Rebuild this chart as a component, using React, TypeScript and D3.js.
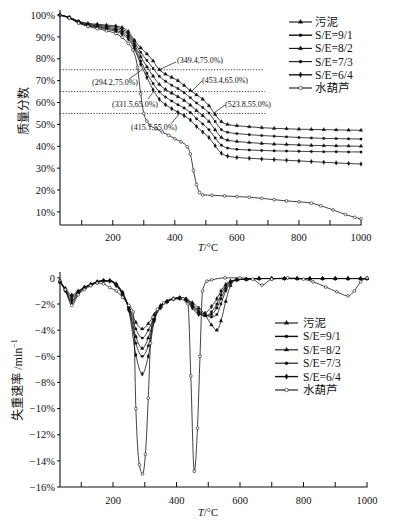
import React from "react";
import * as d3 from "d3";

// ---------- DATA ----------
const seriesNames = ["污泥", "S/E=9/1", "S/E=8/2", "S/E=7/3", "S/E=6/4", "水葫芦"];

// TG (mass fraction, %)
const tgTemps = [30, 60, 90, 120, 150, 180, 210, 230, 250, 270, 290, 310, 330, 350, 370, 390, 410, 430, 450, 470, 490, 510, 530, 550, 570, 600, 640, 680, 720, 760, 800, 840, 880, 920, 960, 1000];
const tgSludge = [100, 99, 97.2, 96.2, 95.8, 95.4, 95, 94.3, 92.5, 88.5, 85, 82.2, 79, 75, 73, 71.5, 70, 67.8, 65.5, 63.5, 61.5, 58.5, 54.5, 51.2, 50, 49.4, 48.9, 48.5, 48.2, 48, 47.8, 47.7, 47.6, 47.5, 47.4, 47.3];
const tgSE91 = [100, 98.9, 97, 95.9, 95.4, 94.9, 94.4, 93.5, 91.6, 87.5, 83, 79.3, 75.6, 72, 69.7, 67.9, 66.4, 64.5, 62.2, 59.8, 57.7, 55.2, 51.3, 47.6, 46.4, 45.8, 45.3, 44.9, 44.6, 44.3, 44, 43.8, 43.6, 43.5, 43.4, 43.3];
const tgSE82 = [100, 98.8, 96.8, 95.6, 95, 94.4, 93.7, 92.8, 90.8, 86.5, 81, 76.3, 72.1, 68.3, 66, 64.3, 62.7, 61, 58.8, 56.3, 54, 51.3, 47.5, 44, 42.8, 42.2, 41.7, 41.3, 41, 40.8, 40.6, 40.4, 40.3, 40.2, 40.1, 40];
const tgSE73 = [100, 98.7, 96.6, 95.3, 94.6, 93.9, 93, 92, 89.9, 85.5, 79, 73.4, 68.7, 64.9, 62.5, 60.7, 59, 57.5, 55.4, 52.6, 50.2, 47.6, 43.8, 40.5, 39.2, 38.6, 38.3, 38.1, 37.9, 37.8, 37.7, 37.6, 37.5, 37.5, 37.4, 37.4];
const tgSE64 = [100, 98.7, 96.5, 95, 94.3, 93.5, 92.5, 91.3, 89, 84.5, 77.5, 71.5, 65.8, 61.5, 59, 57.2, 55.5, 54, 52, 49, 46.5, 44, 40.2, 36.8, 35.5, 34.9, 34.5, 34.2, 33.9, 33.6, 33.3, 33, 32.7, 32.4, 32.1, 31.9];
const tgHyacinthTemps = [30, 60, 90, 120, 150, 180, 210, 230, 250, 265, 280, 290, 300, 310, 320, 340, 360, 380, 400, 420, 440, 450, 460, 470, 480, 490, 520, 560, 600, 640, 680, 720, 760, 800, 840, 870, 910, 950, 980, 1000];
const tgHyacinth = [100, 98.6, 96.3, 94.8, 93.8, 92.8, 91.5, 89.8, 87, 84, 76, 64, 55, 51.5, 49.6, 48, 46.5, 45, 43.4, 42, 39.8, 36.5, 29, 22.5, 18.8, 17.8, 17.6, 17.3, 17, 16.7, 16.2, 15.6, 15, 14.6, 14, 12.8, 10.9, 8.8, 7.5, 6.8];

// TG y ticks and x ticks
const tgYTicks = [10, 20, 30, 40, 50, 60, 70, 80, 90, 100];
const xTicks = [100, 200, 300, 400, 500, 600, 700, 800, 900, 1000];
const xTickLabels = [200, 400, 600, 800, 1000];

// Reference lines and annotations (T, %)
const refLevels = [75, 65, 55];
const annotT = [349.4, 294.2, 331.5, 453.4, 523.8, 415.1];
const annotP = [75, 75, 65, 65, 55, 55];

// DTG (rate, %/min)
const dtgTemps = [33, 50, 70, 90, 110, 130, 150, 170, 190, 210, 230, 250, 272, 292, 311, 330, 350, 370, 390, 410, 430, 450, 470, 490, 510, 527, 540, 555, 570, 590, 620, 660, 700, 740, 780, 820, 860, 900, 940, 980, 1000];
const dtgSludge = [-0.3, -0.8, -1.3, -1.0, -0.7, -0.5, -0.3, -0.2, -0.2, -0.45, -1.1, -2.2, -3.4, -3.9, -3.5, -2.8, -2.1, -1.8, -1.6, -1.5, -1.6, -1.9, -2.3, -2.8, -3.6, -4.0, -3.3, -1.8, -0.6, -0.15, -0.1, -0.05, -0.05, -0.05, -0.05, -0.05, -0.05, -0.05, -0.05, -0.05, -0.05];
const dtgSE91 = [-0.3, -0.85, -1.45, -1.05, -0.72, -0.5, -0.3, -0.2, -0.2, -0.5, -1.15, -2.25, -3.9, -4.6, -4.0, -3.0, -2.15, -1.8, -1.6, -1.5, -1.6, -2.0, -2.5, -2.8, -3.0, -2.8, -2.0, -1.0, -0.4, -0.15, -0.1, -0.05, -0.05, -0.05, -0.05, -0.05, -0.05, -0.05, -0.05, -0.05, -0.05];
const dtgSE82 = [-0.3, -0.9, -1.6, -1.1, -0.75, -0.5, -0.3, -0.2, -0.22, -0.5, -1.2, -2.35, -4.5, -5.4, -4.6, -3.1, -2.2, -1.8, -1.6, -1.55, -1.65, -2.1, -2.6, -2.9, -2.8, -2.3, -1.6, -0.8, -0.3, -0.15, -0.1, -0.05, -0.05, -0.05, -0.05, -0.05, -0.05, -0.05, -0.05, -0.05, -0.05];
const dtgSE73 = [-0.3, -0.95, -1.75, -1.15, -0.78, -0.52, -0.32, -0.22, -0.24, -0.55, -1.25, -2.4, -5.0, -6.0, -5.2, -3.2, -2.2, -1.8, -1.6, -1.55, -1.7, -2.2, -2.7, -2.9, -2.6, -2.0, -1.3, -0.6, -0.3, -0.15, -0.1, -0.05, -0.05, -0.05, -0.05, -0.05, -0.05, -0.05, -0.05, -0.05, -0.05];
const dtgSE64 = [-0.3, -1.0, -1.9, -1.2, -0.8, -0.55, -0.35, -0.25, -0.26, -0.6, -1.3, -2.5, -5.9, -7.35, -6.0, -3.3, -2.3, -1.85, -1.62, -1.58, -1.75, -2.3, -2.8, -2.7, -2.2, -1.6, -1.0, -0.5, -0.25, -0.15, -0.1, -0.05, -0.05, -0.05, -0.05, -0.05, -0.05, -0.05, -0.05, -0.05, -0.05];
const dtgHyacinthTemps = [33, 50, 70, 90, 110, 130, 150, 170, 190, 210, 230, 250, 264, 272, 283, 293, 302, 311, 318, 326, 340, 360, 390, 420, 436, 445, 456, 466, 474, 482, 496, 511, 553, 600, 640, 669, 700, 750, 800, 830, 870, 905, 940, 960, 980, 1000];
const dtgHyacinth = [-0.2, -0.9, -2.1, -1.3, -0.9, -0.6, -0.4, -0.45, -0.75, -1.0, -1.5, -2.1, -2.6, -10.0, -14.3, -15.0, -13.5, -9.2, -5.0, -3.0, -2.4, -1.9, -1.6, -1.6, -2.0, -7.5, -14.8, -11.5, -6.0, -1.0, -0.25, -0.15, 0, 0, -0.1, -0.55, -0.1, 0, -0.1, -0.3, -0.7, -1.07, -1.38, -1.0, -0.3, 0];
const dtgYTicks = [0, -2, -4, -6, -8, -10, -12, -14, -16];

// ---------- CHART ----------
const FONT = "'Liberation Serif','Times New Roman','Noto Sans CJK SC',serif";
const CJK = "'Noto Sans CJK SC','Liberation Serif',serif";
const INK = "#111";

const symbolTypes = [d3.symbolTriangle, d3.symbolSquare, d3.symbolTriangle, d3.symbolCircle, d3.symbolDiamond, d3.symbolCircle];
const symbolSizes = [6, 4.5, 6, 5, 6, 6];
const symbolFills = [INK, INK, INK, INK, INK, "#fff"];

function Marker({ x, y, i, scale = 1 }: { x: number; y: number; i: number; scale?: number }) {
  const p = d3.symbol().type(symbolTypes[i]).size(symbolSizes[i] * scale)() as string;
  return <path d={p} transform={`translate(${x},${y})`} fill={symbolFills[i]} stroke={INK} strokeWidth={i === 5 ? 0.6 : 0.3} />;
}

function Series({ temps, vals, x, y, i }: any) {
  const pts: [number, number][] = temps.map((t: number, k: number) => [t, vals[k]]);
  const line = d3.line<[number, number]>().x((d) => x(d[0])).y((d) => y(d[1])).curve(d3.curveMonotoneX);
  return (
    <g>
      <path d={line(pts) as string} fill="none" stroke={INK} strokeWidth={0.8} />
      {pts.map((d, k) => <Marker key={k} x={x(d[0])} y={y(d[1])} i={i} />)}
    </g>
  );
}

function Legend({ x0, y0, dy, lineLen, textGap }: any) {
  return (
    <g>
      {seriesNames.map((n, i) => {
        const yy = y0 + i * dy;
        return (
          <g key={n}>
            <line x1={x0} x2={x0 + lineLen} y1={yy} y2={yy} stroke={INK} strokeWidth={i === 1 || i === 4 ? 1.4 : 1.1} />
            <Marker x={x0 + lineLen / 2} y={yy} i={i} scale={1.5} />
            <text x={x0 + lineLen + textGap} y={yy} dy="0.35em" fontSize={11.5} fontFamily={FONT} fill={INK}>{n}</text>
          </g>
        );
      })}
    </g>
  );
}

export default function App() {
  const W = 399, H = 529;
  const xT = d3.scaleLinear().domain([30, 1000]).range([60, 361]);
  const yT = d3.scaleLinear().domain([4, 102.3]).range([225, 10]);
  const xB = d3.scaleLinear().domain([33, 1000]).range([60, 367]);
  const yB = d3.scaleLinear().domain([-16, 0.45]).range([487, 272]);

  const tgSeries = [
    { temps: tgTemps, vals: tgSludge },
    { temps: tgTemps, vals: tgSE91 },
    { temps: tgTemps, vals: tgSE82 },
    { temps: tgTemps, vals: tgSE73 },
    { temps: tgTemps, vals: tgSE64 },
    { temps: tgHyacinthTemps, vals: tgHyacinth },
  ];
  const dtgSeries = [
    { temps: dtgTemps, vals: dtgSludge },
    { temps: dtgTemps, vals: dtgSE91 },
    { temps: dtgTemps, vals: dtgSE82 },
    { temps: dtgTemps, vals: dtgSE73 },
    { temps: dtgTemps, vals: dtgSE64 },
    { temps: dtgHyacinthTemps, vals: dtgHyacinth },
  ];

  const refEnds = [263, 265, 267];
  // label placement: [leader end x, leader end y, text x, text baseline y]
  const annotLayout = [
    [176, 62, 177, 62.5],
    [129, 79, 92, 85],
    [148, 99, 112, 107],
    [202, 81, 202, 83],
    [225, 105, 225, 107],
    [171, 124, 131, 130],
  ];

  const fmtAnn = (t: number, p: number) => `(${t.toFixed(1)},${p.toFixed(1)}%)`;

  return (
    <svg width={W} height={H} style={{ position: "absolute", left: 0, top: 0, background: "#fff" }} fontFamily={FONT}>
      <rect width={W} height={H} fill="#fff" />

      {/* ===== TOP: TG ===== */}
      <g>
        {refLevels.map((p, k) => (
          <line key={p} x1={xT(30)} x2={refEnds[k]} y1={yT(p)} y2={yT(p)} stroke={INK} strokeWidth={0.8} strokeDasharray="1.2,1.6" />
        ))}
        {tgSeries.map((s, i) => <Series key={i} temps={s.temps} vals={s.vals} x={xT} y={yT} i={i} />)}

        {annotT.map((t, k) => {
          const L = annotLayout[k];
          return (
            <g key={k}>
              <line x1={xT(t)} y1={yT(annotP[k])} x2={L[0]} y2={L[1]} stroke={INK} strokeWidth={0.7} />
              <text x={L[2]} y={L[3]} fontSize={8} fill={INK}>{fmtAnn(t, annotP[k])}</text>
            </g>
          );
        })}

        <line x1={60} x2={60} y1={10} y2={225} stroke={INK} strokeWidth={1.1} />
        <line x1={60} x2={xT(1000) + 0.5} y1={225} y2={225} stroke={INK} strokeWidth={1.1} />
        {tgYTicks.map((v) => (
          <g key={v}>
            <line x1={57} x2={60} y1={yT(v)} y2={yT(v)} stroke={INK} strokeWidth={1} />
            <text x={55} y={yT(v)} dy="0.35em" textAnchor="end" fontSize={10.5} fill={INK}>{`${v}%`}</text>
          </g>
        ))}
        {xTicks.map((v) => (
          <line key={v} x1={xT(v)} x2={xT(v)} y1={225} y2={220} stroke={INK} strokeWidth={1} />
        ))}
        {xTickLabels.map((v) => (
          <text key={v} x={xT(v)} y={241} textAnchor="middle" fontSize={10.5} fill={INK}>{v}</text>
        ))}
        <text x={208} y={251} textAnchor="middle" fontSize={10.5} fill={INK}>
          <tspan fontStyle="italic">T</tspan>/°C
        </text>
        <text transform="translate(28,111) rotate(-90)" textAnchor="middle" fontSize={12} fontFamily={CJK} fill={INK}>质量分数</text>

        <Legend x0={289} y0={22} dy={13.2} lineLen={23} textGap={3} />
      </g>

      {/* ===== BOTTOM: DTG ===== */}
      <g>
        {dtgSeries.map((s, i) => <Series key={i} temps={s.temps} vals={s.vals} x={xB} y={yB} i={i} />)}

        <line x1={60} x2={60} y1={272} y2={487} stroke={INK} strokeWidth={1.1} />
        <line x1={60} x2={xB(1000) + 0.5} y1={487} y2={487} stroke={INK} strokeWidth={1.1} />
        {dtgYTicks.map((v) => (
          <g key={v}>
            <line x1={57} x2={60} y1={yB(v)} y2={yB(v)} stroke={INK} strokeWidth={1} />
            <text x={55} y={yB(v)} dy="0.35em" textAnchor="end" fontSize={10.5} fill={INK}>{v === 0 ? "0" : `−${Math.abs(v)}%`}</text>
          </g>
        ))}
        {xTicks.map((v) => (
          <line key={v} x1={xB(v)} x2={xB(v)} y1={487} y2={482} stroke={INK} strokeWidth={1} />
        ))}
        {xTickLabels.map((v) => (
          <text key={v} x={xB(v)} y={504} textAnchor="middle" fontSize={10.5} fill={INK}>{v}</text>
        ))}
        <text x={208} y={516} textAnchor="middle" fontSize={10.5} fill={INK}>
          <tspan fontStyle="italic">T</tspan>/°C
        </text>
        <text transform="translate(22,380) rotate(-90)" textAnchor="middle" fontSize={12} fill={INK}>
          <tspan fontFamily={CJK}>失重速率</tspan>
          <tspan> /min</tspan>
          <tspan fontSize={8} dy={-5}>−1</tspan>
        </text>

        <Legend x0={275} y0={323} dy={13.4} lineLen={23} textGap={5} />
      </g>
    </svg>
  );
}
